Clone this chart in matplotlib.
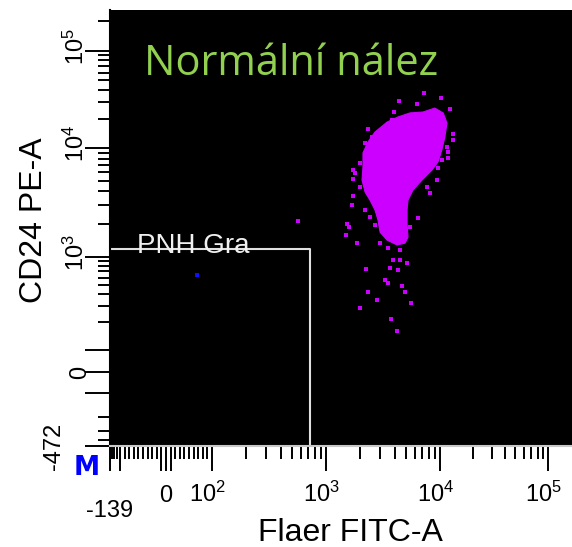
import numpy as np
import matplotlib
matplotlib.use("Agg")
import matplotlib.pyplot as plt

plt.rcParams['font.family'] = ['Liberation Sans', 'DejaVu Sans']
plt.rcParams['mathtext.fontset'] = 'custom'
plt.rcParams['mathtext.rm'] = 'Liberation Sans'

# dense core of the population (outline), Flaer FITC-A vs CD24 PE-A
core_flaer = [7100, 9000, 10700, 11600, 11100, 10400, 9600, 8500, 6950, 5800,
              5240, 5140, 5140, 5240, 4930, 4200, 3430, 2980, 2860, 2690,
              2430, 2200, 2070, 2110, 2110, 2330, 2690, 3430, 4290, 5460]
core_cd24 = [23500, 25800, 23000, 18100, 13000, 9600, 7450, 6280, 5080, 4120,
             3330, 2700, 2050, 1520, 1340, 1290, 1430, 1690, 2180, 2700,
             3330, 3950, 5080, 6700, 9000, 11500, 14600, 18500, 20900, 23000]

# single events around the core
ev_flaer = [7240, 4370, 10200, 12400, 3950, 2330, 2200, 13200, 13200, 11900,
            10400, 9600, 1800, 1730, 1990, 1730, 1690, 2200, 2430, 1530,
            1590, 1500, 1870, 6410, 5460, 2980, 3500, 3870, 4460, 5140,
            3640, 4290, 2240, 3300, 3500, 4650, 4930, 2330, 2800, 5570,
            1990, 3720, 4200, 9420, 7690, 8170, 570,
            1730, 1990, 11900, 11600, 6280, 3790, 2540, 4460, 2690]
ev_cd24 = [36900, 30500, 32700, 25200, 23500, 15700, 11300, 13900, 12100, 9180,
           7760, 6560, 5900, 5200, 4390, 3630, 3000, 2700, 2330, 2010,
           1880, 1590, 1340, 2280, 1880, 1340, 1210, 930, 930, 860,
           760, 720, 740, 570, 525, 490, 420, 420, 345, 320,
           283, 215, 160, 5080, 4390, 3860, 2140,
           6280, 7280, 8090, 10200, 28400, 19500, 13000, 1160, 1970]

# event inside the gate
pnh_flaer = [67]
pnh_cd24 = [640]

# PNH gate limits
gate_flaer = 720
gate_cd24 = 1180

x_lim = (-139, 167000)
y_lim = (-472, 260000)

# axis calibration of the biexponential display (value -> pixel)
x_cal_val = [-139, -100, 0, 100, 1e3, 1e4, 1e5, 167000]
x_cal_px = [110, 120, 166, 212, 326, 440, 548, 572]
y_cal_val = [-472, -100, 0, 100, 1e3, 1e4, 1e5, 260000]
y_cal_px = [446, 393, 372, 350, 257, 148, 51, 10]


def symlog(v):
    v = np.asarray(v, dtype=float)
    a = np.abs(v)
    return np.where(a < 100, v / 100, np.sign(v) * (1 + np.log10(np.maximum(a, 1e-9) / 100)))


def symexp(s):
    s = np.asarray(s, dtype=float)
    a = np.abs(s)
    return np.where(a < 1, s * 100, np.sign(s) * 100 * 10 ** (a - 1))


def biex(cal_val, units):
    sp = symlog(cal_val)
    up = np.asarray(units, dtype=float)
    def fwd(v):
        return np.interp(symlog(v), sp, up)
    def inv(u):
        return symexp(np.interp(u, up, sp))
    return fwd, inv


magenta = '#CC00FF'

fig = plt.figure(figsize=(5.72, 5.47), dpi=100)
ax = fig.add_axes([110 / 572, (547 - 446) / 547, 462 / 572, 436 / 547])
ax.set_facecolor('black')

ax.set_xscale('function', functions=biex(x_cal_val, x_cal_px))
ax.set_yscale('function', functions=biex(y_cal_val, [-p for p in y_cal_px]))
ax.set_xlim(*x_lim)
ax.set_ylim(*y_lim)

ax.fill(core_flaer, core_cd24, color=magenta, lw=0.8, ec=magenta)
ax.scatter(ev_flaer, ev_cd24, s=5, marker='s', color=magenta, linewidths=0)
ax.scatter(pnh_flaer, pnh_cd24, s=6, marker='s', color='#1010FF', linewidths=0)

# gate
ax.plot([x_lim[0], gate_flaer, gate_flaer], [gate_cd24, gate_cd24, y_lim[0]],
        color='#E0E0E0', lw=1.5)
ax.text(-63, 1090, 'PNH Gra', color='#F0F0F0', fontsize=20, ha='left', va='baseline')

# ticks
x_major = [-139, -100, -10, 0, 10, 100, 1e3, 1e4, 1e5]
x_minor = list(range(-130, 100, 10)) + [m * 10 ** k for k in (2, 3, 4) for m in range(2, 10)]
y_major = [-472, -100, 0, 100, 1e3, 1e4, 1e5]
y_minor = [-400, -300, -200] + [m * 10 ** k for k in (2, 3, 4) for m in range(2, 10)] + [2e5]
ax.set_xticks(x_major)
ax.set_xticks(x_minor, minor=True)
ax.set_yticks(y_major)
ax.set_yticks(y_minor, minor=True)
ax.tick_params(which='major', direction='out', length=18, width=1.4, color='black',
               labelbottom=False, labelleft=False)
ax.tick_params(which='minor', direction='out', length=9, width=1.4, color='black')

for side in ('top', 'right'):
    ax.spines[side].set_visible(False)
ax.spines['bottom'].set_color('#C8C8C8')
ax.spines['bottom'].set_linewidth(1.5)
ax.spines['left'].set_linewidth(1.5)

# tick labels
x_lab_vals = [-139, 0, 100, 1e3, 1e4, 1e5]
x_lab_text = ['-139', '0', r'$\mathregular{10^2}$', r'$\mathregular{10^3}$',
              r'$\mathregular{10^4}$', r'$\mathregular{10^5}$']
for v, t in zip(x_lab_vals, x_lab_text):
    dy = -51 if v < 0 else -40
    dx = -3 if v >= 100 else 0
    ax.annotate(t, xy=(v, 0), xycoords=('data', 'axes fraction'), xytext=(dx, dy),
                textcoords='offset points', ha='center', va='baseline', fontsize=17,
                annotation_clip=False)

y_lab_vals = [-472, 0, 1e3, 1e4, 1e5]
y_lab_text = ['-472', '0', r'$\mathregular{10^3}$', r'$\mathregular{10^4}$',
              r'$\mathregular{10^5}$']
for v, t in zip(y_lab_vals, y_lab_text):
    if v < 0:
        dx, dy = -36, 0
    elif v == 0:
        dx, dy = -17, 0
    else:
        dx, dy = -19, 3
    ax.annotate(t, xy=(0, v), xycoords=('axes fraction', 'data'), xytext=(dx, dy),
                textcoords='offset points', rotation=90, rotation_mode='anchor',
                ha='center', va='baseline', fontsize=17, annotation_clip=False)

# axis titles
fig.text(350 / 572, 1 - 541 / 547, 'Flaer FITC-A', ha='center', va='baseline', fontsize=23)
fig.text(42 / 572, 1 - 220 / 547, 'CD24 PE-A', rotation=90, rotation_mode='anchor',
         ha='center', va='baseline', fontsize=23)
fig.text(87 / 572, 1 - 468 / 547, 'M', color='#0000FF', fontweight='bold', fontsize=19,
         family='DejaVu Sans', ha='center', va='center')

fig.text(291 / 572, 1 - 75 / 547, 'Normální nález', color='#92D050', fontsize=30,
         family='Open Sans', ha='center', va='baseline')

fig.savefig('out.png', dpi=100, facecolor='white')
